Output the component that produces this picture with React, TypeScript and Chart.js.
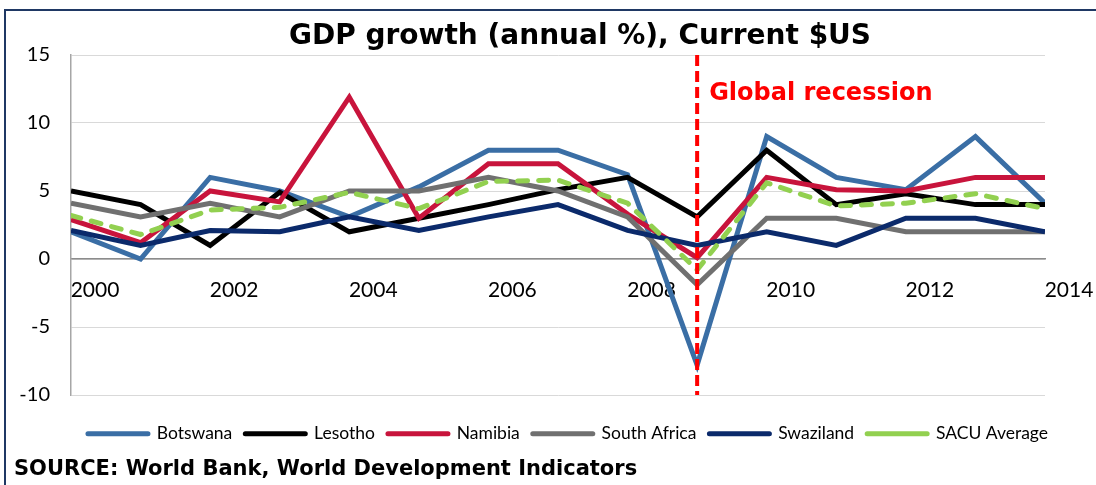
import React, { useEffect, useRef } from 'react';
import { Chart, registerables } from 'chart.js';

Chart.register(...registerables);

// ---- Data ----
const YEARS = [2000, 2001, 2002, 2003, 2004, 2005, 2006, 2007, 2008, 2009, 2010, 2011, 2012, 2013, 2014];
const BOTSWANA = [2, 0, 6, 5, 3.1, 5.3, 8, 8, 6.2, -7.8, 9, 6, 5.1, 9, 4.1];
const LESOTHO = [5, 4, 1, 4.9, 2, 3, 4, 5.1, 6, 3.1, 8, 4, 4.8, 4, 4];
const NAMIBIA = [2.9, 1.2, 5, 4.2, 11.9, 3, 7, 7, 3.3, 0.1, 6, 5.1, 5, 6, 6];
const SOUTH_AFRICA = [4.1, 3.1, 4.1, 3.1, 5, 5, 6, 5, 3.1, -1.9, 3, 3, 2, 2, 2];
const SWAZILAND = [2.1, 1, 2.1, 2, 3.1, 2.1, 3.1, 4, 2.1, 1, 2, 1, 3, 3, 2];
const SACU_AVERAGE = [3.2, 1.8, 3.6, 3.8, 4.9, 3.7, 5.7, 5.8, 4.1, -0.8, 5.6, 3.9, 4.1, 4.8, 3.7];

const SERIES_NAMES = ['Botswana', 'Lesotho', 'Namibia', 'South Africa', 'Swaziland', 'SACU Average'];
const SERIES_VALUES = [BOTSWANA, LESOTHO, NAMIBIA, SOUTH_AFRICA, SWAZILAND, SACU_AVERAGE];
const SERIES_COLORS = ['#3A6EA5', '#000000', '#C8143C', '#707070', '#0B2A6B', '#92D050'];

const X_MIN = 2000;
const X_MAX = 2014;
const X_STEP = 2;
const Y_MIN = -10;
const Y_MAX = 15;
const Y_STEP = 5;

const RECESSION_YEAR = 2009;
const RECESSION_LABEL = 'Global recession';
const TITLE = 'GDP growth (annual %), Current $US';
const SOURCE = 'SOURCE: World Bank, World Development Indicators';

const FONT = 'Lato, sans-serif';
const BOLD_FONT = '"DejaVu Sans", sans-serif';

export default function App() {
  const canvasRef = useRef<HTMLCanvasElement | null>(null);

  useEffect(() => {
    document.body.style.margin = '0';
    const canvas = canvasRef.current;
    if (!canvas) return;

    const recessionPlugin = {
      id: 'recession',
      afterDatasetsDraw(chart: any) {
        const { ctx, chartArea, scales } = chart;
        const x = scales.x.getPixelForValue(RECESSION_YEAR);
        ctx.save();
        ctx.strokeStyle = '#FF0000';
        ctx.lineWidth = 4;
        ctx.setLineDash([11, 5]);
        ctx.beginPath();
        ctx.moveTo(x, chartArea.top);
        ctx.lineTo(x, chartArea.bottom);
        ctx.stroke();
        ctx.setLineDash([]);
        ctx.fillStyle = '#FF0000';
        ctx.font = 'bold 24px ' + BOLD_FONT;
        ctx.textBaseline = 'alphabetic';
        ctx.textAlign = 'left';
        ctx.fillText(RECESSION_LABEL, x + 12, chartArea.top + 45);
        ctx.restore();
      },
    };

    const chart = new Chart(canvas, {
      type: 'line',
      data: {
        datasets: SERIES_NAMES.map((name, i) => ({
          label: name,
          data: YEARS.map((yr, j) => ({ x: yr, y: SERIES_VALUES[i][j] })),
          borderColor: SERIES_COLORS[i],
          backgroundColor: SERIES_COLORS[i],
          borderWidth: 5,
          borderDash: i === 5 ? [10, 11] : [],
          borderCapStyle: i === 5 ? 'round' : 'butt',
          pointRadius: 0,
          pointHoverRadius: 0,
          tension: 0,
          fill: false,
          order: SERIES_NAMES.length - i,
        })),
      },
      options: {
        responsive: false,
        animation: false,
        events: [],
        layout: { padding: { left: 10, right: -30, top: 0, bottom: 0 } },
        plugins: {
          tooltip: { enabled: false },
          title: { display: false },
          legend: {
            display: true,
            position: 'bottom',
            title: { display: true, text: ' ', font: { size: 10 }, padding: { top: 5, bottom: 0 } },
            labels: {
              usePointStyle: true,
              pointStyle: 'line',
              pointStyleWidth: 60,
              padding: 13,
              color: '#000',
              font: { family: FONT, size: 17.5 },
              sort: (a: any, b: any) => a.datasetIndex - b.datasetIndex,
              generateLabels: (c: any) =>
                (Chart.defaults.plugins.legend.labels as any).generateLabels(c).map((l: any) => ({ ...l, lineCap: 'round' })),
            },
          },
        },
        scales: {
          x: {
            type: 'linear',
            min: X_MIN,
            max: X_MAX,
            position: { y: 0 } as any,
            ticks: {
              stepSize: X_STEP,
              labelOffset: 24,
              padding: 19,
              maxRotation: 0,
              autoSkip: false,
              color: '#000',
              font: { family: FONT, size: 21 },
              callback: (v: any) => String(v),
            },
            grid: { display: true, color: 'rgba(0,0,0,0)', drawTicks: false },
            border: { display: true, color: '#8C8C8C', width: 1.5 },
            afterFit: (s: any) => {
              s.paddingLeft = 0;
              s.paddingRight = 51;
              s.paddingTop = 55;
              s.paddingBottom = 90;
            },
          },
          y: {
            min: Y_MIN,
            max: Y_MAX,
            ticks: {
              stepSize: Y_STEP,
              padding: 21,
              color: '#000',
              font: { family: FONT, size: 20 },
            },
            grid: { color: '#D9D9D9', lineWidth: 1, drawTicks: false },
            border: { display: true, color: '#A6A6A6', width: 1.5 },
            afterFit: (s: any) => {
              s.width = 61;
            },
          },
        },
      },
      plugins: [recessionPlugin],
    } as any);

    return () => chart.destroy();
  }, []);

  return (
    <div style={{ position: 'relative', width: 1096, height: 485, overflow: 'hidden', background: '#fff' }}>
      <div
        style={{
          position: 'absolute',
          left: 4,
          top: 9,
          width: 1200,
          height: 600,
          borderLeft: '2px solid #1F3864',
          borderTop: '2px solid #1F3864',
        }}
      />
      <canvas ref={canvasRef} width={1096} height={485} style={{ position: 'absolute', left: 0, top: 0 }} />
      <div
        style={{
          position: 'absolute',
          left: 80,
          width: 1000,
          top: 21,
          textAlign: 'center',
          fontFamily: BOLD_FONT,
          fontWeight: 'bold',
          fontSize: 28,
          lineHeight: '28px',
          color: '#000',
          whiteSpace: 'nowrap',
        }}
      >
        {TITLE}
      </div>
      <div
        style={{
          position: 'absolute',
          left: 14,
          top: 458,
          fontFamily: BOLD_FONT,
          fontWeight: 'bold',
          fontSize: 21,
          lineHeight: '21px',
          color: '#000',
          whiteSpace: 'nowrap',
        }}
      >
        {SOURCE}
      </div>
    </div>
  );
}
